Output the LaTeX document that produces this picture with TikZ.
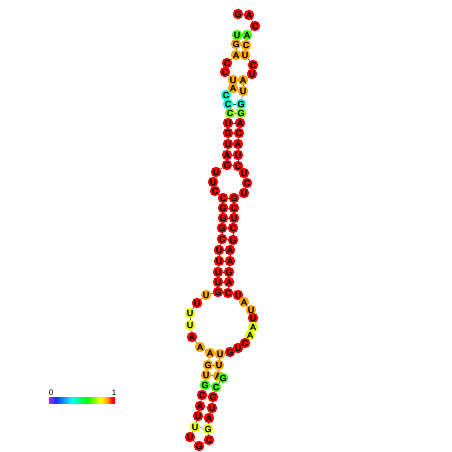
\documentclass[tikz,border=0pt]{standalone}
\usepackage{fontspec}
\setmainfont{Liberation Sans}
\newfontfamily\ntfont[FakeBold=2]{Liberation Sans}
\pgfdeclarelayer{bg}
\pgfsetlayers{bg,main}
\definecolor{cR}{RGB}{255,0,0}
\definecolor{cO}{RGB}{255,165,0}
\definecolor{cY}{RGB}{230,255,0}
\definecolor{cG}{RGB}{60,255,0}
\definecolor{cGY}{RGB}{130,255,0}
\definecolor{cC}{RGB}{0,255,205}
\definecolor{cV}{RGB}{170,40,255}
\definecolor{cB}{RGB}{30,40,255}
\definecolor{cCy}{RGB}{0,255,255}
\definecolor{cGr}{RGB}{0,255,0}
\definecolor{cYe}{RGB}{255,255,0}
\pgfdeclarehorizontalshading{cbar}{100bp}{color(0bp)=(cV); color(25bp)=(cV); color(30bp)=(cB); color(42bp)=(cCy); color(54bp)=(cGr); color(64bp)=(cYe); color(69bp)=(cO); color(73bp)=(cR); color(100bp)=(cR)}
\begin{document}
\begin{tikzpicture}[x=1pt,y=-1pt,
  nt/.style={circle,inner sep=0pt,minimum size=10.5pt,text=black,font=\ntfont\fontsize{8.8}{8.8}\selectfont},
  bb/.style={draw=black!75,line width=0.5pt},
  bpl/.style={draw=black!75,line width=0.5pt},
  lab/.style={inner sep=0pt,font=\fontsize{8}{8}\selectfont}]
\useasboundingbox (0,0) rectangle (452,452);
\foreach \i/\x/\y/\l/\c in {
1/230/352/G/cR, 2/220/354/U/cO, 3/219/365/U/cO, 4/218/376/A/cO, 5/223/378/G/cG,
6/216/387/C/cG, 7/213/397/G/cR, 8/212/408/U/cR, 9/209/418/A/cR, 10/208/429/G/cY,
11/209/440/C/cR, 12/199/446/G/cR, 13/190/437/U/cR, 14/195/427/U/cY, 15/198/416/U/cR,
16/200/406/A/cR, 17/202/395/C/cR, 18/205/385/G/cG, 19/206/375/U/cO, 20/208/365/G/cO,
21/210/353/A/cO, 22/200/347/A/cO, 23/192/337/A/cR, 24/190/325/U/cY, 25/190/313/U/cY,
26/197/303/U/cR, 27/206/295/U/cO, 28/218/292/G/cR, 29/218/282/U/cR, 30/218/272/U/cR,
31/219/261/U/cR, 32/219/250/U/cR, 33/222/239/C/cR, 34/222/228/G/cR, 35/223/218/G/cR,
36/223/208/G/cR, 37/223/198/C/cR, 38/215/191/C/cR, 39/213/182/U/cR, 40/216/172/U/cR,
41/227/165/G/cR, 42/227/155/A/cR, 43/228/144/U/cR, 44/228/133/G/cR, 45/228/123/U/cR,
46/230/113/C/cGY, 47/228/104/C/cC, 48/226/95/C/cC, 49/233/88/A/cO, 50/233/80/U/cO,
51/225/72/C/cR, 52/227/63/C/cR, 53/236/55/A/cO, 54/236/44/G/cO, 55/237/35/U/cG,
56/238/14/G/cR, 57/249/15/A/cR, 58/255/26/C/cR, 59/247/35/A/cG, 60/246/45/C/cO,
61/245/55/U/cO, 62/253/65/C/cR, 63/252/74/U/cR, 64/243/80/A/cO, 65/243/91/U/cO,
66/241/104/G/cC, 67/241/113/G/cGY, 68/240/123/A/cR, 69/239/133/C/cR, 70/238/144/A/cR,
71/238/155/U/cR, 72/238/166/C/cR, 73/244/173/U/cR, 74/247/183/C/cR, 75/244/193/U/cR,
76/234/198/G/cR, 77/234/208/C/cR, 78/234/218/U/cR, 79/233/228/C/cR, 80/233/240/G/cR,
81/230/250/A/cR, 82/230/261/A/cR, 83/229/272/G/cR, 84/229/282/A/cR, 85/228/293/C/cR,
86/238/295/U/cR, 87/244/302/A/cO, 88/251/310/U/cO, 89/253/318/U/cR, 90/253/327/A/cY,
91/250/335/A/cY, 92/245/343/C/cR, 93/238/348/U/cR}
  \node[nt,fill=\c] (n\i) at (\x,\y) {\l};
\begin{pgfonlayer}{bg}
\foreach \i [evaluate=\i as \j using int(\i+1)] in {1,...,54,56,57,...,92}
  \draw[bb] (n\i.center) -- (n\j.center);
\draw[bb] (n93.center) -- (n1.center);
\foreach \a/\b in {2/21,3/20,4/19,6/18,7/17,8/16,9/15,10/14,
  28/85,29/84,30/83,31/82,32/81,33/80,34/79,35/78,36/77,37/76,
  41/72,42/71,43/70,44/69,45/68,46/67,47/66,49/65,50/64,
  53/61,54/60,55/59}
  \draw[bpl] (n\a.center) -- (n\b.center);
\end{pgfonlayer}
\node[inner sep=0pt,minimum width=66pt,minimum height=6pt,shading=cbar] (bar) at (82,400) {};
\node[lab] (l0) at (51,393) {0};
\node[lab] (l1) at (114,393) {1};
\end{tikzpicture}
\end{document}
